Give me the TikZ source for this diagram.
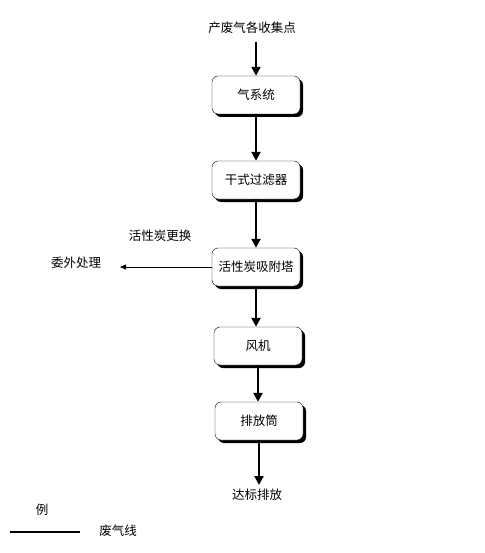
\documentclass[tikz,border=0pt]{standalone}
\usepackage{fontspec}
\newfontfamily\cjk{Noto Sans CJK SC}
\usetikzlibrary{arrows.meta,shadows}
\tikzset{
  stepbox/.style={draw=black, fill=white, rounded corners=6pt, minimum width=88pt,
    minimum height=38pt, font=\cjk\fontsize{12.5}{14}\selectfont,
    drop shadow={shadow xshift=3pt, shadow yshift=-3pt, fill=black, opacity=1}},
  flow/.style={line width=2.4pt, -{Triangle[length=9pt,width=9pt]}},
  txt/.style={font=\cjk\fontsize{12.5}{14}\selectfont, inner sep=0pt}
}
\begin{document}
\begin{tikzpicture}[x=1pt, y=-1pt]
            \useasboundingbox (0,0) rectangle (484,553);
            \node[txt] (src) at (252, 28) {产废气各收集点};
            \node[stepbox] (sys) at (256, 95) {气系统};
            \node[stepbox] (filt) at (256, 180) {干式过滤器};
            \node[stepbox] (ads) at (256, 267) {活性炭吸附塔};
            \node[stepbox] (fan) at (258, 346) {风机};
            \node[stepbox] (stack) at (259, 421) {排放筒};
            \node[txt] (out) at (257, 495) {达标排放};
            \node[txt] (chg) at (160, 236) {活性炭更换};
            \node[txt] (dispose) at (76, 263) {委外处理};
            \coordinate (srcend) at (256, 42);
            \coordinate (outend) at (257, 485);
            \coordinate (dispend) at (120, 267);


            \draw[flow] (srcend) -- (sys.north);
            \draw[flow] (sys.south) -- (filt.north);
            \draw[flow] (filt.south) -- (ads.north);
            \draw[flow] (ads.south) -- (ads.south |- fan.north);
            \draw[flow] (fan.south) -- (fan.south |- stack.north);
            \draw[flow] (stack.south) -- (stack.south |- outend);
            \draw[-{Triangle[length=6pt,width=5pt]}, thin] (ads.west) -- (ads.west -| dispend);

            % legend
            \node[txt] (legend) at (42, 510) {例};
            \coordinate (la) at (10, 532);
            \coordinate (lb) at (80, 532);
            \draw[line width=2.4pt] (la) -- (lb);
            \node[txt] (lname) at (118, 531) {废气线};
        \end{tikzpicture}
\end{document}
